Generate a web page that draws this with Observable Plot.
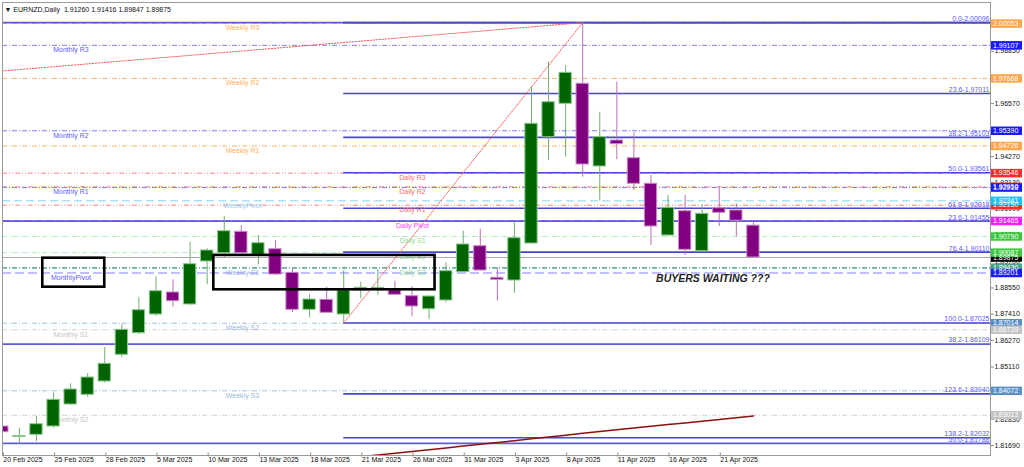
<!DOCTYPE html>
<html><head><meta charset="utf-8">
<script src="https://cdn.jsdelivr.net/npm/d3@7"></script>
<script src="https://cdn.jsdelivr.net/npm/@observablehq/plot@0.6"></script>
<style>
html,body{margin:0;padding:0;background:#fff;}
#chart{width:1024px;height:467px;overflow:hidden;}
</style></head><body><div id="chart"></div>
<script>
// ---- data ----
const dates = ["20 Feb 2025","21 Feb 2025","24 Feb 2025","25 Feb 2025","26 Feb 2025","27 Feb 2025","28 Feb 2025",
"3 Mar 2025","4 Mar 2025","5 Mar 2025","6 Mar 2025","7 Mar 2025","10 Mar 2025","11 Mar 2025","12 Mar 2025","13 Mar 2025","14 Mar 2025",
"17 Mar 2025","18 Mar 2025","19 Mar 2025","20 Mar 2025","21 Mar 2025","24 Mar 2025","25 Mar 2025","26 Mar 2025","27 Mar 2025","28 Mar 2025","31 Mar 2025",
"1 Apr 2025","2 Apr 2025","3 Apr 2025","4 Apr 2025","7 Apr 2025","8 Apr 2025","9 Apr 2025","10 Apr 2025","11 Apr 2025","14 Apr 2025","15 Apr 2025",
"16 Apr 2025","17 Apr 2025","18 Apr 2025","21 Apr 2025","22 Apr 2025","23 Apr 2025"];
const open  = [1.82521,1.82064,1.82159,1.82521,1.83478,1.83900,1.84479,1.85641,1.86581,1.87395,1.88352,1.87830,1.89701,1.90062,1.90993,1.89992,1.90236,1.89209,1.87599,1.88034,1.87395,1.88439,1.88490,1.88439,1.88191,1.87625,1.88004,1.89235,1.90367,1.88991,1.88874,1.90484,1.95110,1.96563,1.97434,1.93835,1.94966,1.94196,1.93082,1.90832,1.91890,1.90149,1.92020,1.91920,1.91260];
const high  = [1.83086,1.82447,1.82956,1.83987,1.84379,1.84827,1.85958,1.86946,1.88147,1.89018,1.88904,1.90541,1.90253,1.91659,1.91254,1.90832,1.90615,1.89396,1.88265,1.88582,1.89309,1.88800,1.89353,1.88844,1.88613,1.88221,1.89644,1.91019,1.91106,1.89427,1.91376,1.97316,1.98374,1.98230,2.00096,1.96198,1.97503,1.95301,1.93443,1.92573,1.92573,1.92168,1.92965,1.92212,1.91416];
const low   = [1.81837,1.81768,1.81868,1.82447,1.83435,1.83796,1.84405,1.85510,1.86524,1.87307,1.87712,1.87786,1.88687,1.89862,1.90027,1.89557,1.89092,1.87482,1.87251,1.87438,1.87025,1.88078,1.88221,1.88221,1.87307,1.87164,1.87905,1.89222,1.89290,1.87973,1.88321,1.90450,1.94096,1.94240,1.93369,1.92325,1.94126,1.92790,1.90397,1.90800,1.89962,1.90120,1.91224,1.90758,1.89847];
const close = [1.82273,1.82108,1.82621,1.83683,1.84131,1.84653,1.85249,1.86729,1.87582,1.88408,1.87973,1.89583,1.90180,1.91019,1.90062,1.90497,1.89135,1.87599,1.88047,1.87468,1.88439,1.88556,1.88556,1.88252,1.87743,1.88178,1.89279,1.90441,1.89309,1.88904,1.90715,1.95693,1.96633,1.97912,1.93922,1.95110,1.94805,1.93082,1.91224,1.92038,1.90210,1.91777,1.91820,1.91472,1.89875];

const xTickLabels = ["20 Feb 2025","25 Feb 2025","28 Feb 2025","5 Mar 2025","10 Mar 2025","13 Mar 2025","18 Mar 2025","21 Mar 2025","26 Mar 2025","31 Mar 2025","3 Apr 2025","8 Apr 2025","11 Apr 2025","16 Apr 2025","21 Apr 2025"];
const yTicks = [1.98850,1.96570,1.94270,1.93130,1.91990,1.90850,1.89700,1.88550,1.87410,1.86270,1.85110,1.83980,1.82830,1.81690];

const pivotNames  = ["Weekly R3","Monthly R3","Weekly R2","Monthly R2","Weekly R1","Daily R3","Daily R2","Monthly R1","WeeklyPivot","Daily R1","Daily Pivot","Daily S1","Daily S2","Daily S3","Weekly S1","MonthlyPivot","Weekly S2","Monthly S1","Weekly S3","Monthly S2"];
const pivotValues = [2.00053,1.99107,1.97668,1.95390,1.94726,1.93546,1.92950,1.92918,1.92341,1.92150,1.91465,1.90790,1.90087,1.89430,1.89400,1.89201,1.87014,1.86729,1.84072,1.83012];

const fibALevels = ["0.0","23.6","38.2","50.0","61.8","76.4","100.0","123.6","138.2"];
const fibAValues = [2.00096,1.97011,1.95103,1.93561,1.92018,1.90110,1.87025,1.83940,1.82032];
const fibAStart = "20 Mar 2025";
const fibBLevels = ["0.0","23.6","38.2","50.0"];
const fibBValues = [2.00096,1.91455,1.86109,1.81788];

const trendDates  = [["20 Mar 2025","9 Apr 2025"],["20 Feb 2025","9 Apr 2025"]];
const trendPrices = [[1.87025,2.00096],[1.97990,2.00096]];

const maStart = "21 Mar 2025";
const maValues = [1.81205,1.81283,1.81360,1.81436,1.81512,1.81590,1.81668,1.81745,1.81825,1.81905,1.81985,1.82065,1.82145,1.82222,1.82300,1.82376,1.82452,1.82527,1.82603,1.82678,1.82752,1.82826,1.82900,1.82975];

const lastPrice = 1.89875;
const headerText = "\u25BC EURNZD,Daily  1.91260 1.91416 1.89847 1.89875";
const axisBoxNames = ["Weekly R3","Monthly R3","Weekly R2","Monthly R2","Weekly R1","Daily R3","Daily R2","Monthly R1","Daily R1","WeeklyPivot","Daily Pivot","Daily S1","Daily S3","Last","Daily S2","MonthlyPivot","Weekly S2","Monthly S1","Weekly S3","Monthly S2"];

const annoX1 = [2.37, 12.39];
const annoX2 = [6.00, 25.35];
const annoTop = [1.89845, 1.89966];
const annoBottom = [1.88583, 1.88470];
const calloutText = "BUYERS WAITING ???";
const calloutX = 41.63;
const calloutY = 1.88948;

// ---- build ----
const idxOf = d => dates.indexOf(d);
const candles = dates.map((d, i) => ({i, date: d, o: open[i], h: high[i], l: low[i], c: close[i]}));
const up = candles.filter(d => d.c >= d.o);
const down = candles.filter(d => d.c < d.o);

function kindOf(n) {
  if (n === "WeeklyPivot") return "WP";
  if (n === "MonthlyPivot") return "MP";
  if (n === "Daily Pivot") return "DP";
  if (n === "Daily S3") return "DS3";
  if (n === "Last") return "LAST";
  if (/^Weekly R/.test(n)) return "WR";
  if (/^Weekly S/.test(n)) return "WS";
  if (/^Monthly R/.test(n)) return "MR";
  if (/^Monthly S/.test(n)) return "MS";
  if (/^Daily R/.test(n)) return "DR";
  return "DS";
}
const styles = {
  WR:  {line: "#ffb466", dash: "5,2,1,2", label: "#ffb060", box: "#ffa64d", w: 1},
  MR:  {line: "#7b7bff", dash: "5,2,1,2", label: "#5c5cff", box: "#1a1aff", w: 1},
  DR:  {line: "#ff8080", dash: "5,2,1,2,1,2", label: "#ff6a6a", box: "#ff2a2a", w: 1},
  WP:  {line: "#7fd4f8", dash: "8,4", label: "#8fd0f2", box: "#1ec0ff", w: 1},
  DP:  {line: "#b030ff", dash: "8,3", label: "#ff40ff", box: "#ff1aff", w: 1.5},
  DS:  {line: "#b5e6b5", dash: "5,2,1,2", label: "#8fd88f", box: "#3ec83e", w: 1},
  DS3: {line: "#40a070", dash: "5,2,1,2", label: "#8fd88f", box: "#4aa58a", w: 1},
  MP:  {line: "#8080ff", dash: "9,4", label: "#5c5cff", box: "#1a1aff", w: 1},
  WS:  {line: "#9cc0e0", dash: "5,2,1,2", label: "#9ab6da", box: "#5a8fc8", w: 1},
  MS:  {line: "#cfcfcf", dash: "5,2,1,2", label: "#c4c4c4", box: "#c4c4c4", w: 1},
  LAST:{box: "#000000"}
};
const labelX = {M: 4.02, W: 14.07, D: 24.03};
const pivots = pivotNames.map((n, k) => ({name: n, v: pivotValues[k], kind: kindOf(n), g: n[0]}));
const fibA = fibALevels.map((l, k) => ({lvl: l, v: fibAValues[k]}));
const fibB = fibBLevels.map((l, k) => ({lvl: l, v: fibBValues[k]}));
const trends = trendDates.map((ds, k) => ds.map((d, j) => ({i: idxOf(d), p: trendPrices[k][j], t: k})));
const ma = maValues.map((v, k) => ({i: idxOf(maStart) + k, v}));
const boxes = axisBoxNames.map(n => {
  const k = kindOf(n);
  const v = n === "Last" ? lastPrice : pivotValues[pivotNames.indexOf(n)];
  return {name: n, v, color: styles[k].box};
});
const annos = annoX1.map((x, k) => ({x1: x, x2: annoX2[k], y1: annoTop[k], y2: annoBottom[k]}));
const xMax = 57.89;
const fmt = d3.format(".5f");

const marks = [];
// pivot lines
for (const k of ["MS","WS","MP","DS3","DS","DP","DR","WP","MR","WR"]) {
  const data = pivots.filter(d => d.kind === k);
  marks.push(Plot.ruleY(data, {y: "v", stroke: styles[k].line, strokeDasharray: styles[k].dash, strokeWidth: styles[k].w}));
}
// current price line
marks.push(Plot.ruleY([lastPrice], {stroke: "#a8a8a8", strokeWidth: 1}));
// fib lines
marks.push(Plot.ruleY(fibB, {y: "v", stroke: "#5c5cdc", strokeWidth: 1.8}));
marks.push(Plot.ruleY(fibA, {y: "v", x1: idxOf(fibAStart), x2: xMax, stroke: "#4646d0", strokeWidth: 1.6}));
// trend lines
for (const t of trends) {
  marks.push(Plot.line(t, {x: "i", y: "p", stroke: "#ff5a5a", strokeWidth: 1, strokeDasharray: "1.5,1.5"}));
}
// pivot labels
for (const k of Object.keys(styles)) {
  if (k === "LAST") continue;
  const data = pivots.filter(d => d.kind === k);
  marks.push(Plot.text(data, {x: d => labelX[d.g], y: "v", text: "name", fill: styles[k].label, dy: 4.6}));
}
// fib labels
marks.push(Plot.text(fibA, {y: "v", text: d => d.lvl + "-" + fmt(d.v), frameAnchor: "right", textAnchor: "end", dx: -1, dy: -3.8, fill: "#5a5aff"}));
marks.push(Plot.text(fibB.filter(d => d.lvl !== "0.0"), {y: "v", text: d => d.lvl + "-" + fmt(d.v), frameAnchor: "right", textAnchor: "end", dx: -1, dy: -3.8, fill: "#5a5aff"}));
// moving average
marks.push(Plot.line(ma, {x: "i", y: "v", stroke: "#8b1010", strokeWidth: 1.5, clip: true}));
// candles
marks.push(Plot.ruleX(up, {x: "i", y1: "l", y2: "h", stroke: "#6fae6f", strokeWidth: 1, clip: true}));
marks.push(Plot.ruleX(down, {x: "i", y1: "l", y2: "h", stroke: "#b870b8", strokeWidth: 1, clip: true}));
marks.push(Plot.rect(up, {x1: d => d.i - 0.36, x2: d => d.i + 0.36, y1: "o", y2: "c", fill: "#006400", stroke: "#8cc88c", strokeWidth: 1, clip: true}));
marks.push(Plot.rect(down, {x1: d => d.i - 0.36, x2: d => d.i + 0.36, y1: "o", y2: "c", fill: "#800080", stroke: "#c88cc8", strokeWidth: 1, clip: true}));
// annotations
marks.push(Plot.rect(annos, {x1: "x1", x2: "x2", y1: "y1", y2: "y2", fill: "none", stroke: "#000", strokeWidth: 2.6}));
marks.push(Plot.text([calloutText], {x: calloutX, y: calloutY, text: d => d, fontSize: 10.5, fontWeight: "bold", fontStyle: "italic", fill: "#1e1e1e"}));
// axes
marks.push(Plot.axisX({ticks: xTickLabels.map(idxOf), tickFormat: i => dates[i], tickSize: 4, tickPadding: 0, dy: -2.5, dx: 1, textAnchor: "start", stroke: "#888", fill: "#111", label: null}));
marks.push(Plot.axisY({anchor: "right", ticks: yTicks, tickFormat: fmt, tickSize: 3, tickPadding: 1, stroke: "#888", fill: "#111", label: null}));
// axis price boxes
marks.push(Plot.ruleY(boxes, {y: "v", stroke: "color", strokeWidth: 8.5, insetLeft: 989, insetRight: -32}));
marks.push(Plot.text(boxes, {y: "v", text: d => fmt(d.v), frameAnchor: "right", textAnchor: "start", dx: 2.5, fill: "#ffffff"}));
// header
marks.push(Plot.text([headerText], {frameAnchor: "top-left", text: d => d, textAnchor: "start", dx: 2, dy: 4.5, fill: "#111"}));
// frame
marks.push(Plot.frame({stroke: "#9a9a9a"}));

const chart = Plot.plot({
  width: 1024, height: 467,
  marginLeft: 2, marginRight: 34, marginTop: 2, marginBottom: 12,
  x: {domain: [0.01, xMax], axis: null},
  y: {domain: [1.81259, 2.00971], axis: null},
  color: {type: "identity"},
  style: {fontFamily: "'Liberation Sans', Arial, sans-serif", fontSize: "7px", background: "#fff", color: "#000", overflow: "visible"},
  marks
});
document.getElementById("chart").appendChild(chart);
</script></body></html>
